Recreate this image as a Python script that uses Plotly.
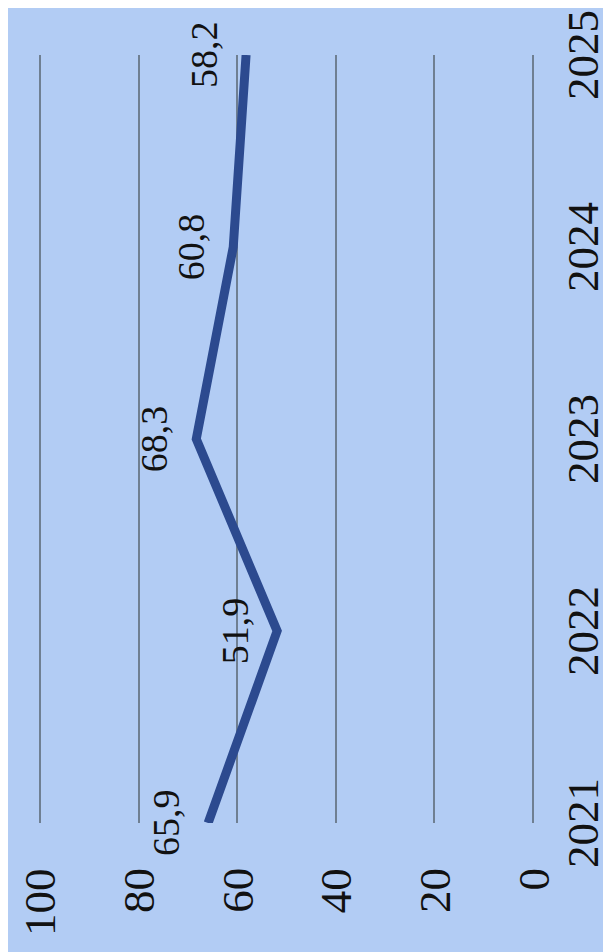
import plotly.graph_objects as go

years = [2021, 2022, 2023, 2024, 2025]
values = [65.9, 51.9, 68.3, 60.8, 58.2]
value_labels = ["65,9", "51,9", "68,3", "60,8", "58,2"]
value_ticks = [0, 20, 40, 60, 80, 100]
year_ticks = ["2021", "2022", "2023", "2024", "2025"]

SERIF = "'Liberation Serif', 'Times New Roman', Times, serif"
TICK_FONT = dict(family=SERIF, size=45, color="#111111")

fig = go.Figure()
fig.add_trace(go.Scatter(
    x=values, y=years, mode="lines",
    line=dict(color="#2c4a8f", width=9),
    hoverinfo="skip", showlegend=False,
))

# data labels
for v, yv, lab in zip(values, years, value_labels):
    fig.add_annotation(
        x=v, y=yv, text=lab, textangle=-90, showarrow=False,
        xshift=-42, font=dict(family=SERIF, size=38, color="#111111"),
    )

# value-axis tick labels (rotated, below the plot)
for t in value_ticks:
    fig.add_annotation(
        x=t, xref="x", y=0, yref="paper", text=str(t), textangle=-90,
        showarrow=False, yanchor="top", xanchor="center", yshift=-43,
        font=TICK_FONT,
    )

# year tick labels (rotated, right of the plot)
for yv, lab in zip(years, year_ticks):
    fig.add_annotation(
        x=1, xref="paper", y=yv, yref="y", text=lab, textangle=-90,
        showarrow=False, xanchor="left", yanchor="middle", xshift=21,
        font=TICK_FONT,
    )

fig.update_layout(
    width=611, height=952,
    margin=dict(l=30, r=84, t=47, b=137, autoexpand=False),
    paper_bgcolor="#b2ccf4", plot_bgcolor="#b2ccf4",
    font=dict(family=SERIF, color="#111111"),
    xaxis=dict(
        range=[100.4, -0.4], tickvals=value_ticks, showticklabels=False,
        showgrid=True, gridcolor="#6f7f92", gridwidth=1.5,
        zeroline=False, showline=False, ticks="", automargin=False,
    ),
    yaxis=dict(
        range=[2021, 2025], tickvals=years, showticklabels=False,
        showgrid=False, zeroline=False, showline=False, ticks="",
        automargin=False,
    ),
)

fig.write_html("out.html")
